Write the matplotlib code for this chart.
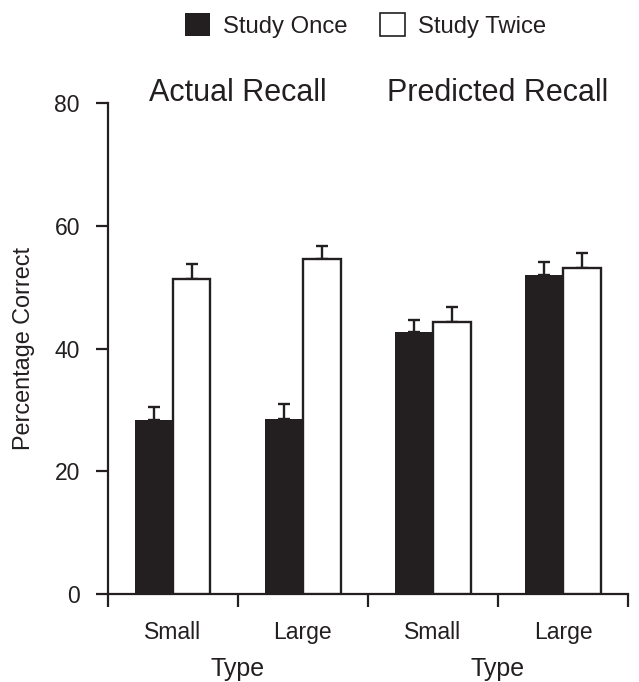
import numpy as np
import matplotlib
matplotlib.use('Agg')
import matplotlib.pyplot as plt
from matplotlib.patches import Patch

plt.rcParams['font.family'] = ['Liberation Sans', 'DejaVu Sans']

# data
panels = ['Actual Recall', 'Predicted Recall']
types = ['Small', 'Large', 'Small', 'Large']
once = [28.3, 28.6, 42.7, 52.0]
once_err = [2.2, 2.4, 1.9, 2.1]
twice = [51.3, 54.6, 44.3, 53.1]
twice_err = [2.4, 2.1, 2.4, 2.5]

INK = '#231f20'


def main():
    fig = plt.figure(figsize=(6.39, 6.82), dpi=100)
    ax = fig.add_axes([0.1685, 0.1286, 0.8145, 0.7208])

    x = np.arange(len(types)) + 0.5
    w = 0.29
    ax.bar(x - w / 2, once, w, color=INK, edgecolor=INK, linewidth=0, zorder=3)
    ax.bar(x + w / 2, twice, w, color='white', edgecolor=INK, linewidth=1.7, zorder=3)
    ax.errorbar(x - w / 2, once, yerr=[np.zeros(4), once_err], fmt='none',
                ecolor=INK, elinewidth=1.7, capsize=4, capthick=1.7, zorder=2)
    ax.errorbar(x + w / 2, twice, yerr=[np.zeros(4), twice_err], fmt='none',
                ecolor=INK, elinewidth=1.7, capsize=4, capthick=1.7, zorder=2)

    ax.set_xlim(0, 4)
    ax.set_ylim(0, 80)
    ax.set_yticks([0, 20, 40, 60, 80])
    ax.set_xticks([0, 1, 2, 3, 4])
    ax.set_xticklabels([])
    ax.set_xticks(x, minor=True)
    ax.set_xticklabels(types, minor=True)
    ax.tick_params(axis='x', which='minor', length=0, pad=19, labelsize=16.5)
    ax.tick_params(axis='x', which='major', direction='out', length=9, width=1.6, color=INK)
    ax.tick_params(axis='y', direction='out', length=9, width=1.6, color=INK,
                   pad=11, labelsize=16.5, labelcolor=INK)
    ax.tick_params(axis='x', labelcolor=INK, which='both')

    for s in ['top', 'right']:
        ax.spines[s].set_visible(False)
    for s in ['left', 'bottom']:
        ax.spines[s].set_linewidth(1.6)
        ax.spines[s].set_color(INK)

    ax.set_ylabel('Percentage Correct', fontsize=16.8, color=INK, labelpad=14)

    for i, p in enumerate(panels):
        ax.text(2 * i + 1, 80.3, p, ha='center', va='baseline', fontsize=22, color=INK)
        ax.text(2 * i + 1, -0.166, 'Type', ha='center', va='baseline', fontsize=18,
                color=INK, transform=ax.get_xaxis_transform())

    handles = [Patch(facecolor=INK, edgecolor=INK, linewidth=0),
               Patch(facecolor='white', edgecolor=INK, linewidth=1.2)]
    fig.legend(handles, ['Study Once', 'Study Twice'], loc='center',
               bbox_to_anchor=(0.572, 0.9626), ncol=2, frameon=False,
               fontsize=17.2, handlelength=1.06, handleheight=1.05,
               handletextpad=0.55, columnspacing=1.35, labelcolor=INK)

    plt.savefig('out.png', dpi=100)


if __name__ == '__main__':
    main()
